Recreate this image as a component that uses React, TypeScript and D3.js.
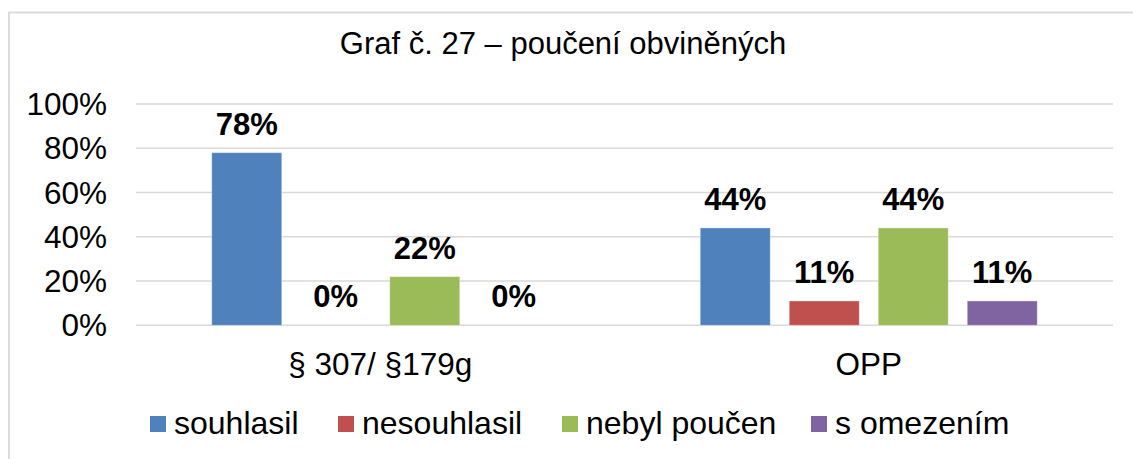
import React from "react";
import * as d3 from "d3";

const categories = ["§ 307/ §179g", "OPP"];
const seriesNames = ["souhlasil", "nesouhlasil", "nebyl poučen", "s omezením"];
const seriesColors = ["#4f81bd", "#c0504d", "#9bbb59", "#8064a2"];
const souhlasil = [78, 44];
const nesouhlasil = [0, 11];
const nebylPoucen = [22, 44];
const sOmezenim = [0, 11];
const yTicks = [0, 20, 40, 60, 80, 100];
const title = "Graf č. 27 – poučení obviněných";

const seriesValues = [souhlasil, nesouhlasil, nebylPoucen, sOmezenim];

const W = 1133;
const H = 459;
const FONT = "'Liberation Sans', Arial, Helvetica, sans-serif";

export default function App() {
  const left = 136;
  const right = 1113;
  const top = 104;
  const bottom = 325.3;

  const x0 = d3.scaleBand<string>().domain(categories).range([left, right]).paddingInner(0).paddingOuter(0);
  const x1 = d3
    .scaleBand<string>()
    .domain(seriesNames)
    .range([0, x0.bandwidth()])
    .paddingInner(19 / 89)
    .paddingOuter(0.851);
  const y = d3.scaleLinear().domain([0, 100]).range([bottom, top]);

  const legendX = [150, 338, 562, 811];

  return (
    <svg
      width={W}
      height={H}
      style={{ position: "absolute", left: 0, top: 0, background: "#fff" }}
      fontFamily={FONT}
    >
      <rect x={0} y={0} width={W} height={H} fill="#fff" />
      <rect x={9} y={12.5} width={1300} height={600} fill="none" stroke="#d9d9d9" strokeWidth={1.8} />
      <text x={563} y={54} textAnchor="middle" fontSize={31} fill="#000">
        {title}
      </text>
      {yTicks.map((t) => (
        <g key={t}>
          <line x1={left} x2={right} y1={y(t)} y2={y(t)} stroke="#d9d9d9" strokeWidth={1.5} />
          <text x={107} y={y(t)} dy="0.35em" textAnchor="end" fontSize={31.5} fill="#000">
            {t}%
          </text>
        </g>
      ))}
      {categories.map((c, ci) => (
        <g key={c} transform={`translate(${x0(c)},0)`}>
          {seriesNames.map((s, si) => {
            const v = seriesValues[si][ci];
            const bx = x1(s) as number;
            return (
              <g key={s}>
                <rect
                  x={bx}
                  y={y(v)}
                  width={x1.bandwidth()}
                  height={bottom - y(v)}
                  fill={seriesColors[si]}
                  stroke="#ffffff"
                  strokeOpacity={0.35}
                  strokeWidth={1}
                />
                <text
                  x={bx + x1.bandwidth() / 2}
                  y={y(v) - 18}
                  textAnchor="middle"
                  fontSize={31}
                  fontWeight="bold"
                  fill="#000"
                >
                  {v}%
                </text>
              </g>
            );
          })}
          <text x={x0.bandwidth() / 2} y={375} textAnchor="middle" fontSize={31.5} fill="#000">
            {c}
          </text>
        </g>
      ))}
      {seriesNames.map((s, i) => (
        <g key={s}>
          <rect x={legendX[i]} y={416} width={16} height={16} fill={seriesColors[i]} />
          <text x={legendX[i] + 24} y={434} fontSize={32} fill="#000">
            {s}
          </text>
        </g>
      ))}
    </svg>
  );
}
